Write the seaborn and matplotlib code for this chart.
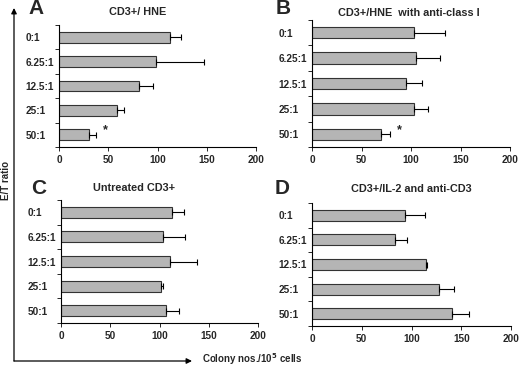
import numpy as np
import pandas as pd
import matplotlib
matplotlib.use("Agg")
import matplotlib.pyplot as plt
import seaborn as sns

# Style
sns.set_style("ticks")
plt.rcParams['font.family'] = ['Liberation Sans', 'DejaVu Sans']
plt.rcParams['font.weight'] = 'bold'
bar_gray = '#b5b5b5'

# Data
ratios = ['0:1', '6.25:1', '12.5:1', '25:1', '50:1']

hne_mean = [112.9, 98.3, 81.4, 58.6, 30.8]
hne_err = [10.7, 48.7, 14.2, 7.4, 7.2]

anti_class_mean = [102.6, 105.0, 95.4, 103.0, 70.0]
anti_class_err = [31.8, 24.0, 15.6, 14.0, 9.0]

untreated_mean = [112.8, 104.0, 110.8, 101.7, 106.4]
untreated_err = [12.4, 22.0, 27.7, 2.0, 13.6]

il2_mean = [93.0, 83.3, 114.7, 127.6, 141.0]
il2_err = [21.0, 11.7, 0.8, 15.0, 17.0]

x_ticks = [0, 50, 100, 150, 200]

W, H = 520, 368

panels = [
    # letter, title, means, errs, star row, axes box (px), title pos (px), letter pos (px)
    ('A', 'CD3+/ HNE', hne_mean, hne_err, 4, (59, 25, 197, 122), (138, 12), (28, 9)),
    ('B', 'CD3+/HNE  with anti-class I', anti_class_mean, anti_class_err, 4, (312, 20, 198, 127), (409, 13), (276, 9)),
    ('C', 'Untreated CD3+', untreated_mean, untreated_err, None, (61, 200, 197, 123), (134, 188), (31, 188)),
    ('D', 'CD3+/IL-2 and anti-CD3', il2_mean, il2_err, None, (312, 203, 199, 123), (411, 189), (275, 188)),
]

fig = plt.figure(figsize=(W / 100, H / 100), dpi=100)

# Overlay for figure-level arrows and labels (pixel coordinates)
over = fig.add_axes([0, 0, 1, 1])
over.set_xlim(0, W)
over.set_ylim(H, 0)
over.axis('off')

for letter, title, means, errs, star_row, box, tpos, lpos in panels:
    left, top, w, h = box
    ax = fig.add_axes([left / W, 1 - (top + h) / H, w / W, h / H])
    df = pd.DataFrame({'ratio': ratios, 'value': means})
    sns.barplot(data=df, x='value', y='ratio', orient='h', color=bar_gray,
                saturation=1, width=0.45, edgecolor='#333333', linewidth=0.8, ax=ax)
    pos = np.arange(len(ratios))
    ax.errorbar(means, pos, xerr=[np.zeros(len(errs)), errs], fmt='none',
                ecolor='black', elinewidth=0.8, capsize=2, capthick=0.8)
    if star_row is not None:
        ax.annotate('*', xy=(means[star_row] + errs[star_row], star_row),
                    xytext=(5, 3), textcoords='offset points',
                    fontsize=9, fontweight='bold', ha='left', va='center')

    ax.set_xlim(0, 200)
    ax.set_ylim(len(ratios) - 0.5, -0.5)
    ax.set_xticks(x_ticks)
    ax.set_xticklabels([str(t) for t in x_ticks], fontsize=7.2, fontweight='bold')
    ax.set_yticks(pos)
    ax.set_yticklabels(ratios, fontsize=7.2, fontweight='bold')
    for lab in ax.get_yticklabels():
        lab.set_horizontalalignment('left')
    ax.set_yticks(np.arange(-0.5, len(ratios)), minor=True)
    ax.tick_params(axis='y', which='major', length=0, pad=24)
    ax.tick_params(axis='y', which='minor', length=3, width=0.7, direction='out')
    ax.tick_params(axis='x', length=3, width=0.7, direction='out', pad=3)
    ax.set_xlabel('')
    ax.set_ylabel('')
    for s in ['top', 'right']:
        ax.spines[s].set_visible(False)
    for s in ['left', 'bottom']:
        ax.spines[s].set_linewidth(0.8)
        ax.spines[s].set_color('black')
    ax.grid(False)

    over.text(tpos[0], tpos[1], title, fontsize=7.8, fontweight='bold',
              ha='center', va='center')
    over.text(lpos[0], lpos[1], letter, fontsize=15, fontweight='bold',
              ha='left', va='center')

# Big L-shaped axis arrows
arrow_kw = dict(arrowstyle='-|>', color='black', lw=0.9, mutation_scale=8,
                shrinkA=0, shrinkB=0)
over.annotate('', xy=(14, 8), xytext=(14, 361), arrowprops=arrow_kw)
over.annotate('', xy=(192, 361), xytext=(14, 361), arrowprops=arrow_kw)
over.text(6, 180, 'E/T ratio', rotation=90, fontsize=7, fontweight='bold',
          ha='center', va='center')
over.text(202, 359, 'Colony nos./10$^\\mathbf{5}$ cells', fontsize=7,
          fontweight='bold', ha='left', va='center')

fig.savefig('out.png', dpi=100)
